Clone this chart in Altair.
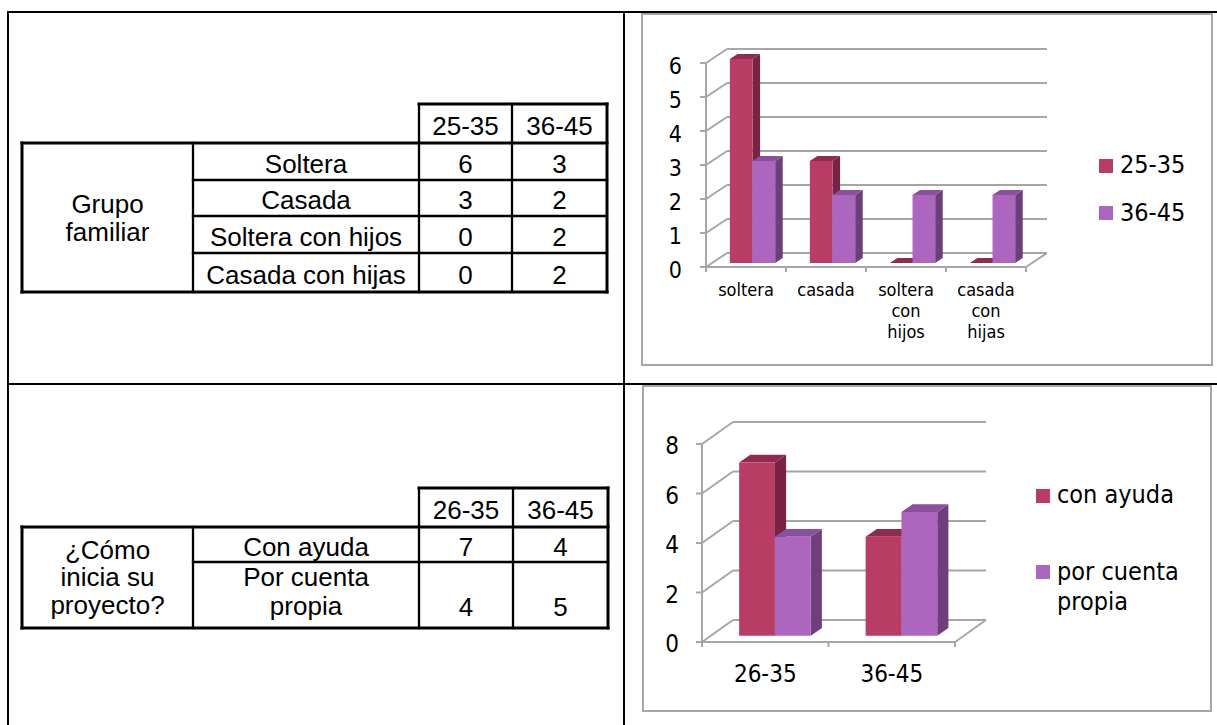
import altair as alt
import pandas as pd

# ---------------- data ----------------
FAM_TITLE = "Grupo\nfamiliar"
FAM_TABLE_ROWS = ["Soltera", "Casada", "Soltera con hijos", "Casada con hijas"]
FAM_CATEGORIES = ["soltera", "casada", "soltera con hijos", "casada con hijas"]
FAM_GROUPS = ["25-35", "36-45"]
FAM_25_35 = [6, 3, 0, 0]
FAM_36_45 = [3, 2, 2, 2]
FAM_TICKS = [0, 1, 2, 3, 4, 5, 6]

INI_TITLE = "¿Cómo\ninicia su\nproyecto?"
INI_TABLE_ROWS = ["Con ayuda", "Por cuenta\npropia"]
INI_GROUPS = ["26-35", "36-45"]
INI_SERIES = ["con ayuda", "por cuenta\npropia"]
INI_CON_AYUDA = [7, 4]
INI_CUENTA_PROPIA = [4, 5]
INI_TICKS = [0, 2, 4, 6, 8]

# ---------------- style ----------------
W, H = 1217, 725
TABLE_FONT = "Liberation Sans"
CHART_FONT = "DejaVu Sans Condensed, DejaVu Sans"
FRONT = ["#B93C64", "#AD66BE"]
SIDE = ["#782343", "#6E3F7B"]
TOP = ["#8E2B50", "#8A509C"]
GRID = "#A6A6A6"
BAR_START, BAR_W = 0.225, 0.283   # bar offsets inside a category (category units)
D0, D1 = 0.28, 0.64               # bar depth span as a fraction of the floor depth


def px(field):
    return alt.X(field, type="quantitative", scale=None, axis=None)


def py(field):
    return alt.Y(field, type="quantitative", scale=None, axis=None)


def segments(rows, color="black"):
    df = pd.DataFrame(rows, columns=["x", "y", "x2", "y2", "w"])
    return alt.Chart(df).mark_rule(color=color, strokeCap="square").encode(
        x=px("x"), y=py("y"), x2="x2", y2="y2",
        strokeWidth=alt.StrokeWidth("w:Q", scale=None, legend=None),
    )


def table_lines(cols, rows):
    c0, c1, c2, c3, c4 = cols
    top, body, bottom = rows[0], rows[1], rows[-1]
    outer, inner = 3, 2.3
    seg = [
        (c2, top, c4, top, outer), (c0, body, c4, body, outer),
        (c0, bottom, c4, bottom, outer), (c0, body, c0, bottom, outer),
        (c4, top, c4, bottom, outer), (c2, top, c2, bottom, inner),
        (c3, top, c3, bottom, inner), (c1, body, c1, bottom, inner),
    ]
    seg += [(c1, r, c4, r, inner) for r in rows[2:-1]]
    return segments(seg)


def texts(rows, size, font, baseline="middle", align="center", lh=28):
    """Text blocks; with a middle baseline a multi-line block is centred on y."""
    out = []
    for x, y, t in rows:
        if baseline == "middle":
            y = y - (t.count("\n")) * lh / 2
        out.append((x, y, t))
    df = pd.DataFrame(out, columns=["x", "y", "text"])
    return alt.Chart(df).mark_text(
        font=font, fontSize=size, baseline=baseline, align=align,
        lineBreak="\n", lineHeight=lh, color="black",
    ).encode(x=px("x"), y=py("y"), text="text:N")


def mid(a, b):
    return (a + b) / 2


# ---------------- tables ----------------
T1_COLS = [22, 193, 419, 512, 607]
T1_ROWS = [104, 143, 180, 216, 253, 292]
t1 = [(mid(T1_COLS[2], T1_COLS[3]), mid(T1_ROWS[0], T1_ROWS[1]) + 3, FAM_GROUPS[0]),
      (mid(T1_COLS[3], T1_COLS[4]), mid(T1_ROWS[0], T1_ROWS[1]) + 3, FAM_GROUPS[1]),
      (mid(T1_COLS[0], T1_COLS[1]), mid(T1_ROWS[1], T1_ROWS[-1]) + 1, FAM_TITLE)]
for i, name in enumerate(FAM_TABLE_ROWS):
    yc = mid(T1_ROWS[i + 1], T1_ROWS[i + 2]) + 3
    t1.append((mid(T1_COLS[1], T1_COLS[2]), yc, name))
    t1.append((mid(T1_COLS[2], T1_COLS[3]), yc, str(FAM_25_35[i])))
    t1.append((mid(T1_COLS[3], T1_COLS[4]), yc, str(FAM_36_45[i])))

T2_COLS = [22, 193, 419, 513, 608]
T2_ROWS = [488, 527, 562, 628]
t2 = [(mid(T2_COLS[2], T2_COLS[3]), mid(T2_ROWS[0], T2_ROWS[1]) + 3, INI_GROUPS[0]),
      (mid(T2_COLS[3], T2_COLS[4]), mid(T2_ROWS[0], T2_ROWS[1]) + 3, INI_GROUPS[1]),
      (mid(T2_COLS[1], T2_COLS[2]), mid(T2_ROWS[1], T2_ROWS[2]) + 3, INI_TABLE_ROWS[0]),
      (mid(T2_COLS[2], T2_COLS[3]), mid(T2_ROWS[1], T2_ROWS[2]) + 3, str(INI_CON_AYUDA[0])),
      (mid(T2_COLS[3], T2_COLS[4]), mid(T2_ROWS[1], T2_ROWS[2]) + 3, str(INI_CON_AYUDA[1])),
      (mid(T2_COLS[1], T2_COLS[2]), mid(T2_ROWS[2], T2_ROWS[3]) - 2.5, INI_TABLE_ROWS[1]),
      (mid(T2_COLS[2], T2_COLS[3]), T2_ROWS[3] - 20, str(INI_CUENTA_PROPIA[0])),
      (mid(T2_COLS[3], T2_COLS[4]), T2_ROWS[3] - 20, str(INI_CUENTA_PROPIA[1]))]
t2_title = [(mid(T2_COLS[0], T2_COLS[1]), mid(T2_ROWS[1], T2_ROWS[-1]) + 0.5, INI_TITLE)]

# page grid and chart frames
grid = segments([(8, 12, W, 12, 2), (8, 12, 8, H, 2), (624, 12, 624, H, 2), (8, 384, W, 384, 2)])
frames = alt.Chart(pd.DataFrame({"x": [642, 643], "x2": [1212, 1211],
                                 "y": [14, 386], "y2": [365, 711]})).mark_rect(
    fill="white", stroke=GRID, strokeWidth=2).encode(x=px("x"), x2="x2", y=py("y"), y2="y2")

layout = alt.layer(
    grid, frames,
    table_lines(T1_COLS, T1_ROWS), table_lines(T2_COLS, T2_ROWS),
    texts(t1, 26, TABLE_FONT), texts(t2, 26, TABLE_FONT, lh=29),
    texts(t2_title, 26, TABLE_FONT, lh=27.5),
)


# ---------------- 3-D clustered columns ----------------
def bars3d(cats, series_values, ticks, x_px, y_px, back_px,
           tick_size, tick_dx, tick_dy, cat_size, cat_dy, cat_lh):
    n, top = len(cats), ticks[-1]
    ux = n / (x_px[1] - x_px[0])
    uy = top / (y_px[0] - y_px[1])
    bx, by = back_px[0] * ux, back_px[1] * uy
    xs = alt.Scale(domain=[0, n], range=list(x_px), nice=False, zero=False)
    ys = alt.Scale(domain=[0, top], range=list(y_px), nice=False, zero=False)

    def X(f, **kw):
        return alt.X(f, type="quantitative", scale=xs, axis=None, **kw)

    def Y(f, **kw):
        return alt.Y(f, type="quantitative", scale=ys, axis=None, **kw)

    seg = []
    for t in ticks:
        seg.append((bx, t + by, n + bx, t + by))   # back wall
        seg.append((0, t, bx, t + by))              # side wall
        seg.append((-6 * ux, t, 0, t))              # tick
    seg += [(0, 0, 0, top), (0, 0, n, 0), (n, 0, n + bx, by)]
    seg += [(i, 0, i, -5 * uy) for i in range(n + 1)]
    walls = pd.DataFrame(seg, columns=["x", "y", "x2", "y2"])
    layers = [alt.Chart(walls).mark_rule(color=GRID, strokeWidth=2).encode(
        x=X("x"), y=Y("y"), x2="x2", y2="y2")]

    side_l, top_l, front_l = [], [], []
    for j, vals in enumerate(series_values):
        fr, sd, tp = [], [], []
        for i, v in enumerate(vals):
            left = i + BAR_START + j * BAR_W
            right = left + BAR_W
            key = f"{j}-{i}"
            fr.append((left + D0 * bx, right + D0 * bx, D0 * by, v + D0 * by))
            for d in (D0, D1):
                sd.append((key, right + d * bx, d * by, v + d * by))
                tp.append((key, v + d * by, left + d * bx, right + d * bx))
        sd = pd.DataFrame(sd, columns=["bar", "x", "y", "y2"])
        tp = pd.DataFrame(tp, columns=["bar", "y", "x", "x2"])
        fr = pd.DataFrame(fr, columns=["x", "x2", "y", "y2"])
        side_l.append(alt.Chart(sd).mark_area(orient="vertical", color=SIDE[j]).encode(
            x=X("x"), y=Y("y", stack=None), y2="y2", detail="bar:N"))
        top_l.append(alt.Chart(tp).mark_area(orient="horizontal", color=TOP[j]).encode(
            y=Y("y"), x=X("x", stack=None), x2="x2", detail="bar:N"))
        front_l.append(alt.Chart(fr).mark_rect(color=FRONT[j]).encode(
            x=X("x"), x2="x2", y=Y("y"), y2="y2"))
    layers += side_l + top_l + front_l

    tick_df = pd.DataFrame({"x": [0.0] * len(ticks), "y": ticks,
                            "label": [str(t) for t in ticks]})
    layers.append(alt.Chart(tick_df).mark_text(
        align="right", baseline="middle", dx=tick_dx, dy=tick_dy,
        font=CHART_FONT, fontSize=tick_size, color="black").encode(
        x=X("x"), y=Y("y"), text="label:N"))
    cat_df = pd.DataFrame({"x": [i + 0.5 for i in range(n)], "y": [0.0] * n, "label": cats})
    layers.append(alt.Chart(cat_df).mark_text(
        align="center", baseline="top", dy=cat_dy, lineBreak=" ", lineHeight=cat_lh,
        font=CHART_FONT, fontSize=cat_size, color="black").encode(
        x=X("x"), y=Y("y"), text="label:N"))
    return alt.layer(*layers)


chart_fam = bars3d(FAM_CATEGORIES, [FAM_25_35, FAM_36_45], FAM_TICKS,
                   (706, 1026), (267, 63), (21, 14),
                   tick_size=23, tick_dx=-24, tick_dy=4,
                   cat_size=18, cat_dy=15, cat_lh=21)
chart_ini = bars3d(INI_GROUPS, [INI_CON_AYUDA, INI_CUENTA_PROPIA], INI_TICKS,
                   (702, 955), (642, 444), (31, 22),
                   tick_size=24, tick_dx=-23, tick_dy=3,
                   cat_size=24, cat_dy=21, cat_lh=26)


# ---------------- legends ----------------
def swatch(x, y, color):
    return alt.Chart(pd.DataFrame({"x": [x], "x2": [x + 14], "y": [y], "y2": [y + 14]})).mark_rect(
        color=color).encode(x=px("x"), x2="x2", y=py("y"), y2="y2")


legends = alt.layer(
    swatch(1099, 159, FRONT[0]), swatch(1099, 206, FRONT[1]),
    swatch(1036, 489, FRONT[0]), swatch(1036, 565, FRONT[1]),
    texts([(1120, 173, FAM_GROUPS[0]), (1120, 221, FAM_GROUPS[1]),
           (1057, 503, INI_SERIES[0]), (1057, 580, INI_SERIES[1])],
          25, CHART_FONT, baseline="alphabetic", align="left", lh=30),
)

chart = alt.layer(layout, chart_fam, chart_ini, legends).resolve_scale(
    x="independent", y="independent"
).properties(
    width=W, height=H, padding=0, background="white",
    autosize=alt.AutoSizeParams(type="none"),
).configure_view(stroke=None)

chart.save("out.html", embed_options={"renderer": "svg", "actions": False})
